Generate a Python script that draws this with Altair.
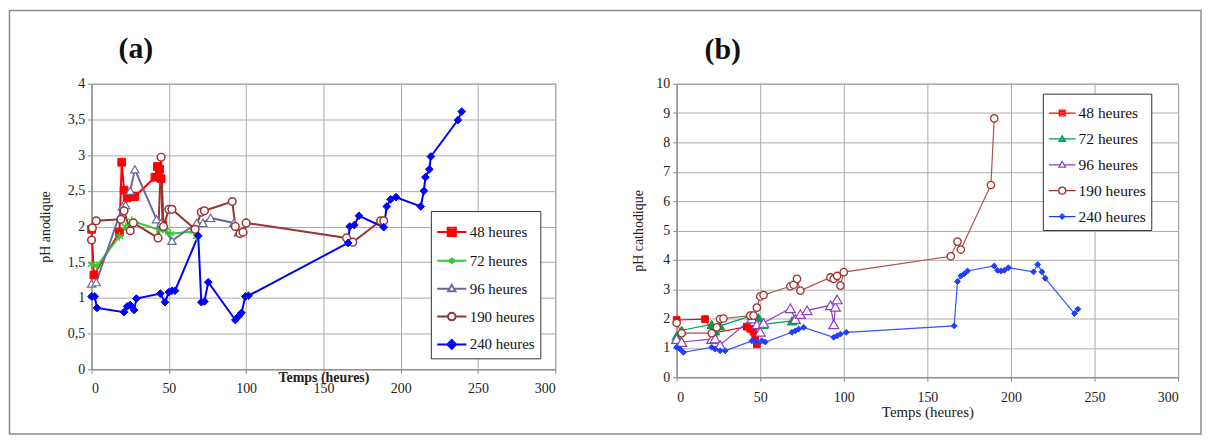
import altair as alt
import pandas as pd

series = ["48 heures", "72 heures", "96 heures", "190 heures", "240 heures"]

# ---------------- Panel (a) : pH anodique ----------------
a48_t = [0, 1.5, 18, 19.5, 21, 23, 26.5, 28, 41, 42.6, 44, 45, 46]
a48_ph = [1.96, 1.32, 1.92, 2.9, 2.51, 2.4, 2.42, 2.42, 2.69, 2.84, 2.8, 2.67, 2.02]
a72_t = [0, 3.5, 18, 22, 26, 44, 48, 51, 66, 68]
a72_ph = [1.47, 1.45, 1.86, 2.0, 2.08, 1.95, 1.94, 1.9, 1.93, 1.86]
a96_t = [0, 3, 20, 22, 25, 28, 42, 45, 52, 68, 72, 77, 92, 95]
a96_ph = [1.2, 1.22, 2.28, 2.3, 2.5, 2.8, 2.1, 2.05, 1.8, 2.05, 2.05, 2.12, 2.05, 1.92]
a190_t = [0, 0.5, 3, 19, 21, 25, 27, 43, 45, 46.5, 50, 52, 67, 71, 73, 91, 93, 96, 98, 100,
          165, 169, 187, 189]
a190_ph = [1.81, 1.98, 2.08, 2.1, 2.22, 1.94, 2.05, 1.84, 2.97, 2.0, 2.24, 2.24, 1.96, 2.2, 2.22,
           2.35, 2.0, 1.9, 1.92, 2.05, 1.84, 1.78, 2.08, 2.08]
a240_t = [0, 2, 3.5, 21, 23, 25, 27.5, 29, 44.5, 47.5, 50, 52, 54, 69, 71, 73, 75.5, 93, 95, 97,
          99.5, 101.5, 166, 167, 170, 173, 189, 191, 193.5, 197, 213, 215, 216, 218.5, 219.5,
          237, 239.5]
a240_ph = [1.02, 1.02, 0.86, 0.8, 0.88, 0.9, 0.83, 0.99, 1.06, 0.94, 1.08, 1.1, 1.1, 1.87, 0.94,
           0.95, 1.22, 0.69, 0.74, 0.79, 1.02, 1.03, 1.77, 2.0, 2.02, 2.15, 1.99, 2.28, 2.38, 2.41,
           2.28, 2.5, 2.69, 2.8, 2.98, 3.49, 3.61]

# ---------------- Panel (b) : pH cathodique ----------------
b48_t = [0, 17, 22, 42, 44, 46, 47, 48]
b48_ph = [1.95, 1.98, 1.5, 1.72, 1.65, 1.55, 1.35, 1.12]
b72_t = [0, 3, 21, 23, 26, 45, 49, 52, 69, 71]
b72_ph = [1.41, 1.6, 1.8, 1.58, 1.75, 2.1, 2.03, 1.8, 1.92, 1.98]
b96_t = [0, 3, 21, 23, 26, 45, 48, 50, 52, 68, 71, 74, 78, 92, 94, 95, 96]
b96_ph = [1.3, 1.2, 1.3, 1.32, 1.1, 2.0, 1.8, 1.55, 1.85, 2.35, 1.98, 2.15, 2.28, 2.45, 1.8, 2.4, 2.65]
b190_t = [0, 3, 21, 24, 26, 28, 44, 46, 48, 50, 52, 68, 70, 72, 74, 92, 94, 96, 98, 100,
          164, 168, 170, 188, 190]
b190_ph = [1.85, 1.5, 1.5, 1.7, 1.98, 2.0, 2.1, 2.1, 2.37, 2.75, 2.8, 3.1, 3.15, 3.35, 2.95, 3.4,
           3.35, 3.45, 3.12, 3.58, 4.12, 4.62, 4.35, 6.55, 8.82]
b240_t = [0, 2, 4, 21, 23, 26, 29, 45, 48, 51, 53, 69, 71, 73, 76, 94, 96, 98, 101.5,
          166, 168, 170, 172, 174, 190, 192, 194, 196, 198.5, 213.5, 216, 218.5, 220.5, 238, 240]
b240_ph = [1.02, 0.96, 0.85, 1.02, 0.96, 0.9, 0.9, 1.24, 1.2, 1.24, 1.2, 1.53, 1.58, 1.64, 1.7,
           1.36, 1.41, 1.47, 1.53, 1.75, 3.26, 3.45, 3.52, 3.62, 3.79, 3.64, 3.62, 3.64, 3.73,
           3.59, 3.84, 3.59, 3.37, 2.17, 2.32]

x_ticks = [0, 50, 100, 150, 200, 250, 300]
a_y_ticks = [0, 0.5, 1, 1.5, 2, 2.5, 3, 3.5, 4]
b_y_ticks = [0, 1, 2, 3, 4, 5, 6, 7, 8, 9, 10]

FONT = "Liberation Serif"


def long_df(ts, phs):
    rows = []
    for s, t, p in zip(series, ts, phs):
        for i, (tt, pp) in enumerate(zip(t, p)):
            rows.append({"serie": s, "t": tt, "ph": pp, "i": i})
    return pd.DataFrame(rows)


df_a = long_df([a48_t, a72_t, a96_t, a190_t, a240_t], [a48_ph, a72_ph, a96_ph, a190_ph, a240_ph])
df_b = long_df([b48_t, b72_t, b96_t, b190_t, b240_t], [b48_ph, b72_ph, b96_ph, b190_ph, b240_ph])

ASTER = "M0,-1V1M-0.87,-0.5L0.87,0.5M-0.87,0.5L0.87,-0.5"
one = pd.DataFrame({"k": [0]})


def panel(df, cfg):
    W, H = cfg["W"], cfg["H"]
    x = alt.X("t:Q", scale=alt.Scale(domain=[0, 300], nice=False, zero=False),
              axis=alt.Axis(values=x_ticks, title="Temps (heures)", grid=True,
                            labelFont=FONT, labelFontSize=14, labelColor="#222",
                            labelPadding=cfg["xlabpad"], tickSize=4,
                            titleFont=FONT, titleFontSize=cfg["xtfs"], titleFontWeight=cfg["xtw"],
                            titleColor="#222", titleY=cfg["xtitleY"], titleBaseline="middle"))
    y = alt.Y("ph:Q", scale=alt.Scale(domain=[0, cfg["ymax"]], nice=False, zero=True),
              axis=alt.Axis(values=cfg["yticks"], title=cfg["ytitle"], grid=True,
                            labelExpr="replace(toString(datum.value), '.', ',')",
                            labelFont=FONT, labelFontSize=14, labelColor="#222",
                            labelPadding=3, tickSize=4,
                            titleFont=FONT, titleFontSize=14, titleFontWeight="normal",
                            titleColor="#222", titleX=cfg["ytitleX"], titleY=H / 2,
                            titleBaseline="middle", titleAngle=270))
    layers = []
    if cfg.get("frame"):
        fr = alt.Chart(one).mark_rect(
            fill="transparent", stroke="#8c8c8c", strokeWidth=1.5).encode(
            x=alt.value(cfg["frame"][0]), x2=alt.value(cfg["frame"][1]),
            y=alt.value(cfg["frame"][2]), y2=alt.value(cfg["frame"][3]))
        layers.append(fr)
    for k, s in enumerate(series):
        ln = alt.Chart(df).transform_filter(alt.datum.serie == s).mark_line(
            strokeWidth=cfg["lw"], color=cfg["lcolors"][k]).encode(x=x, y=y, order="i:Q")
        layers.append(ln)
    for k, s in enumerate(series):
        pt = alt.Chart(df).transform_filter(alt.datum.serie == s).mark_point(
            shape=cfg["shapes"][k], size=cfg["sizes"][k], filled=True,
            fill=cfg["fills"][k], stroke=cfg["colors"][k], strokeWidth=cfg["mw"][k], opacity=1
        ).encode(x=x, y=y)
        layers.append(pt)
    leg = alt.Legend(orient="none", legendX=cfg["legX"], legendY=cfg["legY"], title=None,
                     labelFont=FONT, labelFontSize=cfg["lfs"], labelColor="#111", labelOffset=2,
                     symbolSize=cfg["symS"], symbolStrokeWidth=cfg["lw"], symbolOpacity=1,
                     rowPadding=cfg["rowpad"], padding=5, strokeColor="#333", fillColor="white",
                     labelLimit=200)
    legend_layer = alt.Chart(df).mark_point(filled=False, opacity=0).encode(
        x=x, y=y,
        color=alt.Color("serie:N", scale=alt.Scale(domain=series, range=cfg["colors"]), legend=leg),
        shape=alt.Shape("serie:N", scale=alt.Scale(domain=series, range=cfg["lpaths"]), legend=leg))
    layers.append(legend_layer)
    ttl = alt.Chart(one).mark_text(
        text=cfg["title"], font=FONT, fontSize=30, fontWeight="bold", color="#111",
        align="left", baseline="middle").encode(x=alt.value(cfg["tdx"]), y=alt.value(cfg["ty"]))
    layers.append(ttl)
    return alt.layer(*layers).properties(width=W, height=H)


cfg_a = dict(
    W=466, H=287, ymax=4, yticks=a_y_ticks, ytitle="pH  anodique", ytitleX=-46,
    xlabpad=8, xtfs=14, xtw="bold", xtitleY=8,
    lw=2, colors=["#FF0000", "#33CC33", "#6A6A9C", "#993333", "#0000FF"],
    lcolors=["#FF0000", "#33CC33", "#6A6A9C", "#993333", "#0000FF"],
    fills=["#FF0000", "#33CC33", "white", "white", "#0000FF"],
    shapes=["square", ASTER, "triangle-up", "circle", "diamond"],
    sizes=[60, 70, 70, 60, 60], mw=[1, 1.5, 1.2, 1.5, 1],
    lpaths=[
        "M-1,0H1M-0.28,-0.28H0.28V0.28H-0.28ZM-0.28,-0.14H0.28M-0.28,0.14H0.28",
        "M-1,0H1M0,-0.22V0.22M-0.19,-0.11L0.19,0.11M-0.19,0.11L0.19,-0.11",
        "M-1,0H-0.2M0.2,0H1M0,-0.26L0.25,0.18H-0.25Z",
        "M-1,0H-0.26M0.26,0H1M0.26,0A0.26,0.26,0,1,1,-0.26,0A0.26,0.26,0,1,1,0.26,0Z",
        "M-1,0H1M0,-0.3L0.3,0L0,0.3L-0.3,0ZM0,-0.3V0.3M-0.15,-0.15H0.15M-0.15,0.15H0.15",
    ],
    symS=860, rowpad=4, lfs=15, legX=341, legY=128, title="(a)", tdx=27, ty=-35,
    frame=[-82.5, 1115, -73.5, 352],
)
cfg_b = dict(
    W=504, H=295, ymax=10, yticks=b_y_ticks, ytitle="pH  cathodique", ytitleX=-38,
    xlabpad=9, xtfs=15, xtw="normal", xtitleY=34,
    lw=1.2, colors=["#FF0000", "#00A050", "#8A3FC0", "#A03030", "#1F3FFF"],
    lcolors=["#FF0000", "#00A050", "#8A3FC0", "#B05050", "#3355FF"],
    fills=["#FF0000", "#00A050", "white", "white", "#1F3FFF"],
    shapes=["square", "triangle-up", "triangle-up", "circle", "diamond"],
    sizes=[45, 90, 100, 55, 35], mw=[1, 1, 1.2, 1.3, 1],
    lpaths=[
        "M-1,0H1M-0.22,-0.22H0.22V0.22H-0.22ZM-0.22,-0.11H0.22M-0.22,0.11H0.22",
        "M-1,0H1M0,-0.25L0.25,0.18H-0.25ZM-0.15,0.1H0.15M-0.08,-0.04H0.08",
        "M-1,0H-0.18M0.18,0H1M0,-0.25L0.25,0.18H-0.25Z",
        "M-1,0H-0.26M0.26,0H1M0.26,0A0.26,0.26,0,1,1,-0.26,0A0.26,0.26,0,1,1,0.26,0Z",
        "M-1,0H1M0,-0.2L0.2,0L0,0.2L-0.2,0ZM0,-0.2V0.2M-0.1,-0.1H0.1M-0.1,0.1H0.1",
    ],
    symS=720, rowpad=3, lfs=15.5, legX=368, legY=10, title="(b)", tdx=28, ty=-34,
)

chart = alt.hconcat(panel(df_a, cfg_a), panel(df_b, cfg_b), spacing=122, bounds="flush").resolve_scale(
    color="independent", shape="independent"
).resolve_legend(
    color="independent", shape="independent"
).properties(
    padding=0, background="white"
).configure_view(stroke="#888", strokeWidth=1).configure_axis(
    domainColor="#888", tickColor="#888", gridColor="#AAAAAA", gridWidth=1
)

chart.save("out.html", embed_options={"renderer": "svg", "actions": False})
